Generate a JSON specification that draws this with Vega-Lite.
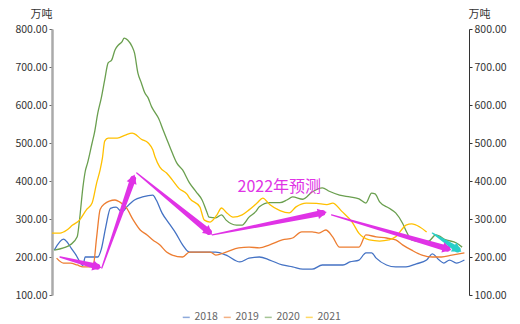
{
  "$schema": "https://vega.github.io/schema/vega-lite/v6.json",
  "width": 417,
  "height": 266,
  "autosize": {"type": "none"},
  "padding": {"left": 52, "top": 29, "right": 51, "bottom": 29},
  "background": "white",
  "config": {
    "view": {"stroke": null},
    "font": "Noto Sans CJK SC",
    "axis": {"grid": false, "labelFont": "Noto Sans CJK SC", "titleFont": "Noto Sans CJK SC"},
    "legend": {"labelFont": "Noto Sans CJK SC"}
  },
  "datasets": {
    "series": [
      {"year":"2018","day":2,"value":218},{"year":"2018","day":10,"value":247},{"year":"2018","day":13,"value":240},{"year":"2018","day":17,"value":222},{"year":"2018","day":21,"value":205},{"year":"2018","day":25,"value":184},{"year":"2018","day":27,"value":178},{"year":"2018","day":29,"value":200},{"year":"2018","day":35,"value":200},{"year":"2018","day":40,"value":200},{"year":"2018","day":43,"value":220},{"year":"2018","day":47,"value":280},{"year":"2018","day":51,"value":328},{"year":"2018","day":56,"value":331},{"year":"2018","day":61,"value":318},{"year":"2018","day":65,"value":331},{"year":"2018","day":72,"value":350},{"year":"2018","day":79,"value":358},{"year":"2018","day":88,"value":363},{"year":"2018","day":91,"value":350},{"year":"2018","day":96,"value":316},{"year":"2018","day":102,"value":289},{"year":"2018","day":108,"value":263},{"year":"2018","day":114,"value":232},{"year":"2018","day":120,"value":213},{"year":"2018","day":129,"value":213},{"year":"2018","day":143,"value":213},{"year":"2018","day":152,"value":205},{"year":"2018","day":164,"value":187},{"year":"2018","day":172,"value":197},{"year":"2018","day":181,"value":200},{"year":"2018","day":190,"value":192},{"year":"2018","day":201,"value":179},{"year":"2018","day":210,"value":174},{"year":"2018","day":219,"value":168},{"year":"2018","day":227,"value":168},{"year":"2018","day":236,"value":179},{"year":"2018","day":245,"value":179},{"year":"2018","day":254,"value":179},{"year":"2018","day":260,"value":187},{"year":"2018","day":268,"value":192},{"year":"2018","day":274,"value":211},{"year":"2018","day":279,"value":211},{"year":"2018","day":283,"value":197},{"year":"2018","day":292,"value":179},{"year":"2018","day":300,"value":174},{"year":"2018","day":309,"value":174},{"year":"2018","day":318,"value":182},{"year":"2018","day":327,"value":192},{"year":"2018","day":332,"value":208},{"year":"2018","day":338,"value":192},{"year":"2018","day":342,"value":184},{"year":"2018","day":347,"value":192},{"year":"2018","day":353,"value":184},{"year":"2018","day":360,"value":192},
      {"year":"2019","day":4,"value":197},{"year":"2019","day":10,"value":184},{"year":"2019","day":16,"value":184},{"year":"2019","day":22,"value":179},{"year":"2019","day":27,"value":174},{"year":"2019","day":33,"value":174},{"year":"2019","day":36,"value":178},{"year":"2019","day":39,"value":253},{"year":"2019","day":42,"value":325},{"year":"2019","day":46,"value":340},{"year":"2019","day":50,"value":347},{"year":"2019","day":55,"value":350},{"year":"2019","day":59,"value":345},{"year":"2019","day":65,"value":329},{"year":"2019","day":71,"value":297},{"year":"2019","day":77,"value":271},{"year":"2019","day":83,"value":258},{"year":"2019","day":88,"value":245},{"year":"2019","day":94,"value":232},{"year":"2019","day":100,"value":213},{"year":"2019","day":105,"value":205},{"year":"2019","day":114,"value":200},{"year":"2019","day":120,"value":213},{"year":"2019","day":129,"value":213},{"year":"2019","day":138,"value":213},{"year":"2019","day":143,"value":205},{"year":"2019","day":152,"value":213},{"year":"2019","day":163,"value":224},{"year":"2019","day":172,"value":226},{"year":"2019","day":181,"value":224},{"year":"2019","day":190,"value":232},{"year":"2019","day":201,"value":245},{"year":"2019","day":210,"value":250},{"year":"2019","day":218,"value":266},{"year":"2019","day":227,"value":266},{"year":"2019","day":233,"value":263},{"year":"2019","day":239,"value":271},{"year":"2019","day":245,"value":253},{"year":"2019","day":251,"value":226},{"year":"2019","day":260,"value":226},{"year":"2019","day":268,"value":226},{"year":"2019","day":274,"value":258},{"year":"2019","day":283,"value":253},{"year":"2019","day":292,"value":250},{"year":"2019","day":300,"value":245},{"year":"2019","day":306,"value":232},{"year":"2019","day":314,"value":218},{"year":"2019","day":323,"value":205},{"year":"2019","day":332,"value":200},{"year":"2019","day":340,"value":200},{"year":"2019","day":349,"value":205},{"year":"2019","day":360,"value":211},
      {"year":"2020","day":2,"value":218},{"year":"2020","day":10,"value":224},{"year":"2020","day":16,"value":232},{"year":"2020","day":22,"value":253},{"year":"2020","day":24,"value":297},{"year":"2020","day":27,"value":384},{"year":"2020","day":29,"value":425},{"year":"2020","day":31,"value":447},{"year":"2020","day":35,"value":500},{"year":"2020","day":37,"value":526},{"year":"2020","day":40,"value":579},{"year":"2020","day":43,"value":618},{"year":"2020","day":46,"value":666},{"year":"2020","day":49,"value":711},{"year":"2020","day":52,"value":718},{"year":"2020","day":55,"value":745},{"year":"2020","day":58,"value":758},{"year":"2020","day":61,"value":766},{"year":"2020","day":63,"value":776},{"year":"2020","day":66,"value":771},{"year":"2020","day":70,"value":753},{"year":"2020","day":72,"value":737},{"year":"2020","day":75,"value":684},{"year":"2020","day":78,"value":658},{"year":"2020","day":81,"value":632},{"year":"2020","day":84,"value":618},{"year":"2020","day":87,"value":595},{"year":"2020","day":90,"value":580},{"year":"2020","day":93,"value":565},{"year":"2020","day":97,"value":534},{"year":"2020","day":103,"value":489},{"year":"2020","day":109,"value":447},{"year":"2020","day":114,"value":429},{"year":"2020","day":120,"value":395},{"year":"2020","day":126,"value":371},{"year":"2020","day":131,"value":350},{"year":"2020","day":135,"value":320},{"year":"2020","day":137,"value":305},{"year":"2020","day":143,"value":303},{"year":"2020","day":148,"value":311},{"year":"2020","day":152,"value":297},{"year":"2020","day":161,"value":284},{"year":"2020","day":166,"value":284},{"year":"2020","day":172,"value":305},{"year":"2020","day":178,"value":320},{"year":"2020","day":181,"value":332},{"year":"2020","day":190,"value":343},{"year":"2020","day":199,"value":343},{"year":"2020","day":205,"value":350},{"year":"2020","day":210,"value":358},{"year":"2020","day":219,"value":352},{"year":"2020","day":227,"value":371},{"year":"2020","day":236,"value":382},{"year":"2020","day":242,"value":373},{"year":"2020","day":251,"value":363},{"year":"2020","day":260,"value":358},{"year":"2020","day":268,"value":353},{"year":"2020","day":274,"value":342},{"year":"2020","day":279,"value":368},{"year":"2020","day":282,"value":366},{"year":"2020","day":286,"value":345},{"year":"2020","day":294,"value":329},{"year":"2020","day":300,"value":316},{"year":"2020","day":306,"value":289},{"year":"2020","day":310,"value":263},{"year":"2020","day":314,"value":245},{"year":"2020","day":323,"value":240},{"year":"2020","day":329,"value":242},{"year":"2020","day":335,"value":258},{"year":"2020","day":344,"value":245},{"year":"2020","day":353,"value":237},{"year":"2020","day":358,"value":226},
      {"year":"2021","day":0,"value":263},{"year":"2021","day":7,"value":263},{"year":"2021","day":13,"value":271},{"year":"2021","day":18,"value":284},{"year":"2021","day":24,"value":297},{"year":"2021","day":30,"value":324},{"year":"2021","day":35,"value":342},{"year":"2021","day":39,"value":395},{"year":"2021","day":42,"value":429},{"year":"2021","day":44,"value":460},{"year":"2021","day":46,"value":505},{"year":"2021","day":49,"value":513},{"year":"2021","day":57,"value":513},{"year":"2021","day":64,"value":521},{"year":"2021","day":70,"value":526},{"year":"2021","day":72,"value":524},{"year":"2021","day":78,"value":510},{"year":"2021","day":84,"value":500},{"year":"2021","day":88,"value":482},{"year":"2021","day":90,"value":463},{"year":"2021","day":94,"value":437},{"year":"2021","day":100,"value":421},{"year":"2021","day":105,"value":403},{"year":"2021","day":111,"value":380},{"year":"2021","day":118,"value":365},{"year":"2021","day":120,"value":355},{"year":"2021","day":129,"value":332},{"year":"2021","day":133,"value":297},{"year":"2021","day":138,"value":292},{"year":"2021","day":144,"value":311},{"year":"2021","day":148,"value":329},{"year":"2021","day":152,"value":318},{"year":"2021","day":158,"value":305},{"year":"2021","day":166,"value":311},{"year":"2021","day":172,"value":324},{"year":"2021","day":179,"value":342},{"year":"2021","day":184,"value":355},{"year":"2021","day":190,"value":338},{"year":"2021","day":199,"value":322},{"year":"2021","day":207,"value":316},{"year":"2021","day":213,"value":332},{"year":"2021","day":222,"value":342},{"year":"2021","day":231,"value":341},{"year":"2021","day":240,"value":338},{"year":"2021","day":245,"value":342},{"year":"2021","day":253,"value":320},{"year":"2021","day":262,"value":292},{"year":"2021","day":268,"value":262},{"year":"2021","day":277,"value":245},{"year":"2021","day":286,"value":242},{"year":"2021","day":294,"value":245},{"year":"2021","day":300,"value":253},{"year":"2021","day":305,"value":271},{"year":"2021","day":309,"value":284},{"year":"2021","day":314,"value":287},{"year":"2021","day":321,"value":279},{"year":"2021","day":327,"value":266}
    ],
    "arrows": [
      {"arrow":"a1","part":"tail","day":7,"value":200},
      {"arrow":"a1","part":"head","day":39.4,"value":174.5},
      {"arrow":"a2","part":"tail","day":43.5,"value":171},
      {"arrow":"a2","part":"head","day":70.8,"value":406},
      {"arrow":"a3","part":"tail","day":74,"value":421},
      {"arrow":"a3","part":"head","day":136.9,"value":266},
      {"arrow":"a4","part":"tail","day":140,"value":258},
      {"arrow":"a4","part":"head","day":236,"value":316},
      {"arrow":"a5","part":"tail","day":244,"value":311},
      {"arrow":"a5","part":"head","day":345,"value":222},
      {"arrow":"c1","part":"tail","day":332,"value":263},
      {"arrow":"c1","part":"head","day":354,"value":220}
    ],
    "notes": [{"day":162,"value":384,"label":"2022年预测"}]
  },
  "layer": [
    {
      "data": {"name": "series"},
      "mark": {"type": "line", "strokeWidth": 1.3, "interpolate": "monotone"},
      "encoding": {
        "x": {"field": "day", "type": "quantitative", "title": null,
          "scale": {"domain": [0, 364], "nice": false, "zero": false},
          "axis": {"values": [0,28,56,84,112,140,168,196,224,252,280,308,336,364],
            "labelExpr": "timeFormat(datetime(2022, 0, 1 + datum.value), '%m-%d')",
            "domainColor": "#aaaaaa", "domainWidth": 2, "tickColor": "#888888", "tickSize": 3,
            "labelColor": "#333333", "labelFontSize": 11, "labelPadding": 2, "labelFlush": false, "labelOverlap": false}},
        "y": {"field": "value", "type": "quantitative", "title": "万吨",
          "scale": {"domain": [100, 800], "nice": false, "zero": false},
          "axis": {"orient": "left", "values": [100,200,300,400,500,600,700,800], "format": ".2f",
            "domainColor": "#aaaaaa", "domainWidth": 2.5, "tickColor": "#666666", "tickSize": 3,
            "labelColor": "#333333", "labelFontSize": 10.5, "labelPadding": 2,
            "titleAngle": 0, "titleX": 0, "titleY": -15, "titleAlign": "right", "titleBaseline": "middle",
            "titleFontSize": 11, "titleFontWeight": "normal", "titleColor": "#333333"}},
        "color": {"field": "year", "type": "nominal",
          "scale": {"domain": ["2018","2019","2020","2021"], "range": ["#4472c4","#ed7d31","#6a9f4f","#ffc000"]},
          "legend": {"orient": "none", "legendX": 129, "legendY": 283, "direction": "horizontal", "title": null,
            "symbolType": "stroke", "symbolSize": 49, "symbolStrokeWidth": 1.5, "symbolOpacity": 0.6,
            "labelFontSize": 10.5, "labelColor": "#666666", "labelOffset": 3, "columnPadding": 2, "padding": 0}}
      }
    },
    {
      "data": {"name": "arrows"},
      "transform": [{"filter": "datum.arrow != 'c1'"}],
      "mark": {"type": "trail", "color": "#e033e6"},
      "encoding": {
        "x": {"field": "day", "type": "quantitative", "title": null, "axis": null},
        "y": {"field": "value", "type": "quantitative", "title": null, "axis": null},
        "detail": {"field": "arrow"},
        "size": {"field": "part", "type": "ordinal", "scale": {"domain": ["tail","head"], "range": [1.3, 6], "padding": 0}, "legend": null}
      }
    },
    {
      "data": {"name": "arrows"},
      "transform": [{"filter": "datum.arrow == 'c1'"}],
      "mark": {"type": "trail", "color": "#29cfc9"},
      "encoding": {
        "x": {"field": "day", "type": "quantitative", "title": null, "axis": null},
        "y": {"field": "value", "type": "quantitative", "title": null, "axis": null},
        "detail": {"field": "arrow"},
        "size": {"field": "part", "type": "ordinal", "scale": {"domain": ["tail","head"], "range": [1.3, 6], "padding": 0}, "legend": null}
      }
    },
    {
      "data": {"name": "arrows"},
      "transform": [{"filter": "datum.arrow == 'a1' && datum.part == 'head'"}],
      "mark": {"type": "point", "shape": "triangle-up", "filled": true, "size": 110, "opacity": 1, "color": "#e033e6", "angle": 104.7},
      "encoding": {"x": {"field": "day", "type": "quantitative", "title": null, "axis": null}, "y": {"field": "value", "type": "quantitative", "title": null, "axis": null}}
    },
    {
      "data": {"name": "arrows"},
      "transform": [{"filter": "datum.arrow == 'a2' && datum.part == 'head'"}],
      "mark": {"type": "point", "shape": "triangle-up", "filled": true, "size": 110, "opacity": 1, "color": "#e033e6", "angle": 19.3},
      "encoding": {"x": {"field": "day", "type": "quantitative", "title": null, "axis": null}, "y": {"field": "value", "type": "quantitative", "title": null, "axis": null}}
    },
    {
      "data": {"name": "arrows"},
      "transform": [{"filter": "datum.arrow == 'a3' && datum.part == 'head'"}],
      "mark": {"type": "point", "shape": "triangle-up", "filled": true, "size": 110, "opacity": 1, "color": "#e033e6", "angle": 129.2},
      "encoding": {"x": {"field": "day", "type": "quantitative", "title": null, "axis": null}, "y": {"field": "value", "type": "quantitative", "title": null, "axis": null}}
    },
    {
      "data": {"name": "arrows"},
      "transform": [{"filter": "datum.arrow == 'a4' && datum.part == 'head'"}],
      "mark": {"type": "point", "shape": "triangle-up", "filled": true, "size": 110, "opacity": 1, "color": "#e033e6", "angle": 78.7},
      "encoding": {"x": {"field": "day", "type": "quantitative", "title": null, "axis": null}, "y": {"field": "value", "type": "quantitative", "title": null, "axis": null}}
    },
    {
      "data": {"name": "arrows"},
      "transform": [{"filter": "datum.arrow == 'a5' && datum.part == 'head'"}],
      "mark": {"type": "point", "shape": "triangle-up", "filled": true, "size": 110, "opacity": 1, "color": "#e033e6", "angle": 106.1},
      "encoding": {"x": {"field": "day", "type": "quantitative", "title": null, "axis": null}, "y": {"field": "value", "type": "quantitative", "title": null, "axis": null}}
    },
    {
      "data": {"name": "arrows"},
      "transform": [{"filter": "datum.arrow == 'c1' && datum.part == 'head'"}],
      "mark": {"type": "point", "shape": "triangle-up", "filled": true, "size": 110, "opacity": 1, "color": "#29cfc9", "angle": 122.3},
      "encoding": {"x": {"field": "day", "type": "quantitative", "title": null, "axis": null}, "y": {"field": "value", "type": "quantitative", "title": null, "axis": null}}
    },
    {
      "data": {"name": "notes"},
      "mark": {"type": "text", "align": "left", "baseline": "middle", "fontSize": 16, "color": "#e033e6", "font": "Noto Sans CJK SC"},
      "encoding": {
        "x": {"field": "day", "type": "quantitative", "title": null, "axis": null},
        "y": {"field": "value", "type": "quantitative", "title": "万吨",
          "axis": {"orient": "right", "values": [100,200,300,400,500,600,700,800], "format": ".2f",
            "domainColor": "#333333", "domainWidth": 1, "tickColor": "#333333", "tickSize": 3,
            "labelColor": "#333333", "labelFontSize": 10.5, "labelPadding": 2,
            "titleAngle": 0, "titleX": -1, "titleY": -15, "titleAlign": "left", "titleBaseline": "middle",
            "titleFontSize": 11, "titleFontWeight": "normal", "titleColor": "#333333"}},
        "text": {"field": "label"}
      }
    }
  ],
  "resolve": {"axis": {"y": "independent"}}
}
